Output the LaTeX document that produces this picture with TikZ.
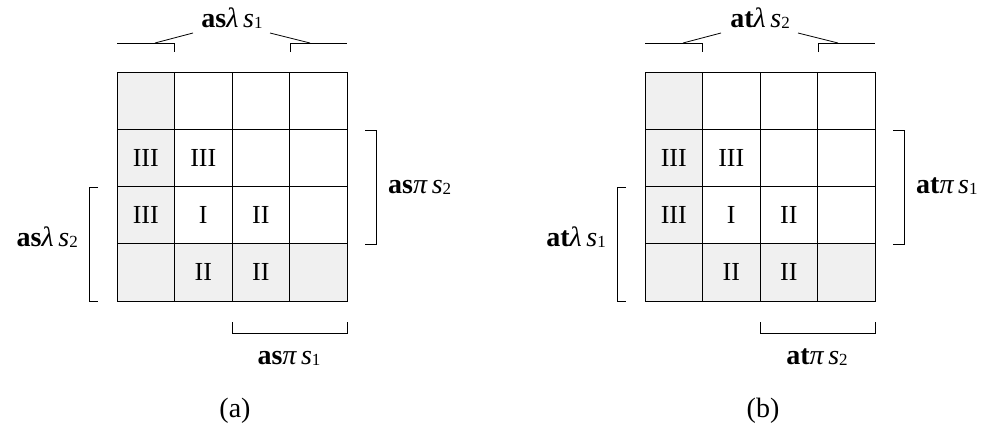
\documentclass[tikz,border=0pt]{standalone}
\usepackage{fontspec}
\setmainfont{Liberation Serif}
\usetikzlibrary{calc}

\definecolor{shade}{HTML}{F0F0F0}

% bold prefix, italic Greek letter and variable, small index
\newcommand\oplabel[3]{\textbf{#1}\textit{#2\,s}\raisebox{-0.15ex}{\fontsize{17}{17}\selectfont #3}}

\tikzset{
  cell/.style={draw, line width=1pt, minimum width=57.5pt, minimum height=57.25pt,
               inner sep=0pt},
  celltext/.style={font=\fontsize{26}{26}\selectfont},
  brk/.style={line width=0.8pt},
  oplbl/.style={font=\fontsize{28}{28}\selectfont, inner sep=0pt},
  captext/.style={font=\fontsize{28}{28}\selectfont, inner sep=0pt}
}

% #1 prefix, #2 shift, #3 top, #4 right, #5 left, #6 bottom, #7 caption
\newcommand\drawpanel[7]{%
  \begin{scope}[xshift=#2]
    \foreach \r in {1,...,4}{
      \foreach \c in {1,...,4}{
        \ifnum\c=1 \def\cf{shade}\else\ifnum\r=4 \def\cf{shade}\else\def\cf{white}\fi\fi
        \node[cell, fill=\cf] (#1-\r-\c) at ({88.25+57.5*\c},{43.375+57.25*\r}) {};
      }
    }
    \foreach \r/\c/\t in {2/1/III, 2/2/III, 3/1/III, 3/2/I, 3/3/II, 4/2/II, 4/3/II}{
      \node[celltext] (#1-t-\r-\c) at (#1-\r-\c) {\t};
    }
    % top brace over the first and last columns
    \draw[brk] (117,43) -- (174,43) -- (174,52);
    \draw[brk] (155,43) -- (193,33);
    \draw[brk] (270,33) -- (310,43);
    \draw[brk] (290,52) -- (290,43) -- (347,43);
    \node[oplbl, anchor=base] (#1-top) at (232,27) {#3};
    % right bracket over rows 2--3
    \draw[brk] (365,130) -- (376,130) -- (376,244) -- (365,244);
    \node[oplbl, anchor=base west] (#1-right) at (388,193) {#4};
    % left bracket over rows 3--4
    \draw[brk] (98,187) -- (89,187) -- (89,301) -- (98,301);
    \node[oplbl, anchor=base east] (#1-left) at (78,246) {#5};
    % bottom bracket under columns 3--4
    \draw[brk] (232,322) -- (232,333) -- (347,333) -- (347,322);
    \node[oplbl, anchor=base] (#1-bottom) at (289,364) {#6};
    \node[captext, anchor=base] (#1-cap) at (235,417) {#7};
  \end{scope}
}

\begin{document}
\begin{tikzpicture}[x=1pt, y=-1pt]
  \useasboundingbox (0,0) rectangle (987,426);
  \drawpanel{a}{0pt}{\oplabel{as}{λ}{1}}{\oplabel{as}{π}{2}}{\oplabel{as}{λ}{2}}{\oplabel{as}{π}{1}}{(a)}
  \drawpanel{b}{528pt}{\oplabel{at}{λ}{2}}{\oplabel{at}{π}{1}}{\oplabel{at}{λ}{1}}{\oplabel{at}{π}{2}}{(b)}
\end{tikzpicture}
\end{document}
